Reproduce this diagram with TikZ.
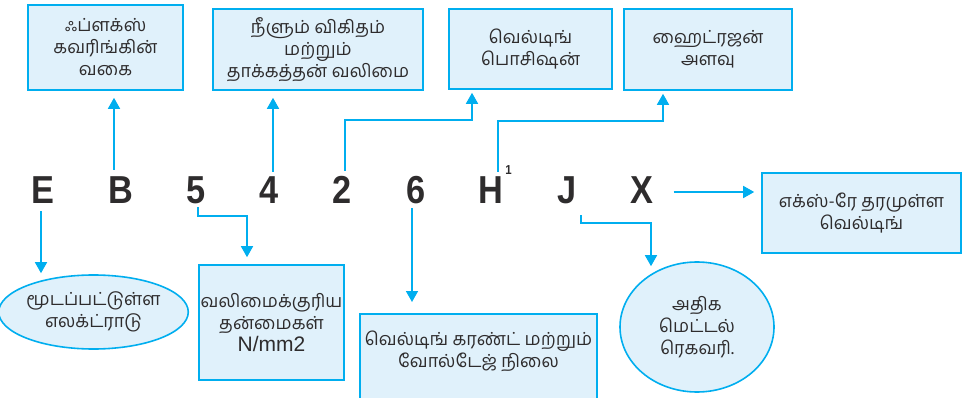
\documentclass[tikz,border=0pt]{standalone}
\usepackage{fontspec}
\usetikzlibrary{arrows.meta,shapes.geometric}
\setmainfont{Liberation Sans}
\newfontfamily\tamilfont[Script=Tamil]{Hind Madurai}
\newfontfamily\letterfont[FakeStretch=0.88]{Liberation Sans}
\definecolor{cyanline}{HTML}{00AEEF}
\definecolor{boxfill}{HTML}{E0F1FB}
\definecolor{ink}{HTML}{2E2C2D}
\tikzset{
  conn/.style={draw=cyanline, line width=1.6pt, -{Triangle[length=11pt,width=12pt]}},
  infobox/.style={draw=cyanline, fill=boxfill, line width=1.6pt, align=center,
    font=\tamilfont\fontsize{18}{22}\selectfont, text=ink, inner sep=0pt},
  tamiltext/.style={align=center, font=\tamilfont\fontsize{18}{22}\selectfont, text=ink, inner sep=0pt},
  letter/.style={font=\letterfont\bfseries\fontsize{39}{39}\selectfont, text=ink,
    inner sep=0pt, text height=28pt, text depth=0pt}
}
\begin{document}
\begin{tikzpicture}[x=1pt, y=-1pt]
\useasboundingbox (0,0) rectangle (969,398);

% boxes above the code letters
\node[infobox, minimum width=155pt, minimum height=85pt] (flux) at (105.5,47.5) {ஃப்ளக்ஸ்\\கவரிங்கின்\\வகை};
\node[infobox, minimum width=210pt, minimum height=81pt] (elong) at (318,49.5) {நீளும் விகிதம்\\மற்றும்\\தாக்கத்தன் வலிமை};
\node[infobox, minimum width=163pt, minimum height=80pt] (pos) at (530.5,49) {வெல்டிங்\\பொசிஷன்};
\node[infobox, minimum width=168pt, minimum height=81pt] (hyd) at (708,49.5) {ஹைட்ரஜன்\\அளவு};

% boxes to the right and below
\node[infobox, minimum width=199pt, minimum height=80pt] (xray) at (861.5,213) {எக்ஸ்-ரே தரமுள்ள\\வெல்டிங்};
\node[infobox, minimum width=145pt, minimum height=115pt] (str) at (271.5,322.5)
  {வலிமைக்குரிய\\தன்மைகள்\\{\rmfamily\fontsize{21}{23}\selectfont N/mm2}};
\node[infobox, minimum width=237pt, minimum height=100pt, anchor=north] (cur) at (478.5,313) {};
\node[tamiltext] (curtext) at (478.5,351) {வெல்டிங் கரண்ட் மற்றும்\\வோல்டேஜ் நிலை};
\node[infobox, ellipse, minimum width=179pt, minimum height=74pt] (elec) at (93.5,312) {மூடப்பட்டுள்ள\\எலக்ட்ராடு};
\node[infobox, ellipse, minimum width=154pt, minimum height=130pt] (rec) at (697,327) {அதிக\\மெட்டல்\\ரெகவரி.};

% the code letters
\node[letter] (E) at (43,190) {E};
\node[letter] (B) at (120.5,190) {B};
\node[letter] (n5) at (196.5,190) {5};
\node[letter] (n4) at (269.5,190) {4};
\node[letter] (n2) at (342,190) {2};
\node[letter] (n6) at (416,190) {6};
\node[letter] (H) at (491,190) {H\rlap{\kern2pt\raisebox{29pt}{\fontsize{13}{13}\selectfont 1}}};
\node[letter] (J) at (567,190) {J};
\node[letter] (X) at (642,190) {X};

% connectors upward
\coordinate (sB) at ([xshift=-6.5pt]B.north);
\draw[conn, shorten <=6pt, shorten >=7pt] (sB) -- (sB |- flux.south);
\coordinate (s4) at ([xshift=3.5pt]n4.north);
\draw[conn, shorten <=4pt, shorten >=7pt] (s4) -- (s4 |- elong.south);
\coordinate (s2) at ([xshift=3pt]n2.north);
\coordinate (t2) at ([xshift=-58.5pt]pos.south);
\draw[conn, shorten <=5pt, shorten >=3pt] (s2) |- ([yshift=-30pt]t2) -- (t2);
\coordinate (sH) at ([xshift=7pt]H.north);
\coordinate (tH) at ([xshift=-45pt]hyd.south);
\draw[conn, shorten <=4pt, shorten >=3pt] (sH) |- ([yshift=-30pt]tH) -- (tH);

% connector to the right
\coordinate (sX) at ([yshift=-2pt]X.east);
\draw[conn, shorten <=20pt, shorten >=7pt] (sX) -- (sX -| xray.west);

% connectors downward
\coordinate (sE) at ([xshift=-2pt]E.south);
\draw[conn, shorten <=7pt, shorten >=1pt] (sE) -- (sE |- elec.north);
\coordinate (s5) at ([xshift=1.5pt]n5.south);
\coordinate (t5) at ([xshift=-24.5pt]str.north);
\draw[conn, shorten <=3pt, shorten >=7pt] (s5) |- ([yshift=48pt]t5) -- (t5);
\coordinate (s6) at ([xshift=-4pt]n6.south);
\draw[conn, shorten <=4pt, shorten >=11pt] (s6) -- (s6 |- cur.north);
\coordinate (sJ) at ([xshift=14pt]J.south);
\coordinate (tJ) at ([xshift=-46pt]rec.north);
\draw[conn, shorten <=11pt, shorten >=-5pt] (sJ) |- ([yshift=38pt]tJ) -- (tJ);
\end{tikzpicture}
\end{document}
